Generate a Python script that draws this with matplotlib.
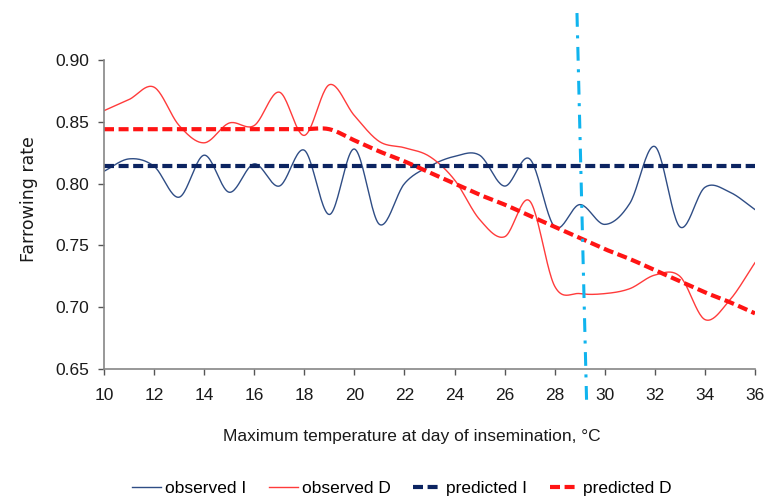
import numpy as np
import matplotlib
matplotlib.use("Agg")
import matplotlib.pyplot as plt

# maximum temperature at day of insemination (C)
temps = list(range(10, 37))

observed_I = [0.810, 0.820, 0.814, 0.789, 0.823, 0.793, 0.816, 0.798, 0.827,
              0.775, 0.828, 0.767, 0.800, 0.814, 0.822, 0.823, 0.798, 0.820,
              0.765, 0.783, 0.767, 0.784, 0.830, 0.765, 0.797, 0.793, 0.779]

observed_D = [0.859, 0.868, 0.878, 0.847, 0.833, 0.849, 0.847, 0.874, 0.839,
              0.880, 0.855, 0.834, 0.829, 0.822, 0.803, 0.771, 0.757, 0.786,
              0.717, 0.711, 0.711, 0.715, 0.726, 0.725, 0.690, 0.706, 0.736]

predicted_I = [0.814] * 27

predicted_D = [0.844, 0.844, 0.844, 0.844, 0.844, 0.844, 0.844, 0.844, 0.844,
               0.844, 0.835, 0.826, 0.818, 0.809, 0.800, 0.791, 0.783, 0.774,
               0.765, 0.756, 0.747, 0.739, 0.730, 0.721, 0.712, 0.704, 0.695]

# threshold marker (drawn slightly slanted in the source)
threshold_x = [28.89, 29.28]
threshold_y = [0.938, 0.619]

x_ticks = list(range(10, 37, 2))
y_ticks = [0.65, 0.70, 0.75, 0.80, 0.85, 0.90]

FONT = 'Liberation Sans'


def smooth(x, y, n=24):
    # Catmull-Rom curve through the points, like Excel's smoothed line
    x = np.asarray(x, float)
    y = np.asarray(y, float)
    px = np.concatenate([[2 * x[0] - x[1]], x, [2 * x[-1] - x[-2]]])
    py = np.concatenate([[2 * y[0] - y[1]], y, [2 * y[-1] - y[-2]]])
    t = np.linspace(0, 1, n, endpoint=False)
    xs, ys = [], []
    for i in range(1, len(px) - 2):
        for p, out in ((px, xs), (py, ys)):
            p0, p1, p2, p3 = p[i - 1], p[i], p[i + 1], p[i + 2]
            out.extend(0.5 * (2 * p1 + (p2 - p0) * t
                              + (2 * p0 - 5 * p1 + 4 * p2 - p3) * t ** 2
                              + (3 * p1 - p0 - 3 * p2 + p3) * t ** 3))
    xs.append(x[-1])
    ys.append(y[-1])
    return xs, ys


fig = plt.figure(figsize=(7.75, 4.99), dpi=100)
ax = fig.add_axes([104 / 775, 130 / 499, 651 / 775, 309 / 499])

l1, = ax.plot(*smooth(temps, observed_I), color='#2f4d85', lw=1.0,
              label='observed I')
l2, = ax.plot(*smooth(temps, observed_D), color='#ff3b3b', lw=1.0,
              label='observed D')
l3, = ax.plot(temps, predicted_I, color='#0c2461', lw=3.0,
              linestyle=(0, (2.4, 1.1)), label='predicted I')
l4, = ax.plot(*smooth(temps, predicted_D), color='#ff1414', lw=3.0,
              linestyle=(0, (2.4, 1.1)), label='predicted D')

ax.plot(threshold_x, threshold_y, color='#10b4ee', lw=2.2,
        linestyle=(0, (4.5, 2.8, 1.0, 2.8)), clip_on=False, zorder=5)

ax.set_xlim(10, 36)
ax.set_ylim(0.65, 0.90)
ax.set_xticks(x_ticks)
ax.set_yticks(y_ticks)
ax.set_yticklabels([f"{v:.2f}" for v in y_ticks])

for s in ('top', 'right'):
    ax.spines[s].set_visible(False)
for s in ('left', 'bottom'):
    ax.spines[s].set_color('#868686')
    ax.spines[s].set_linewidth(1.2)

ax.tick_params(axis='both', direction='out', length=4.5, width=1.0,
               color='#555555', labelcolor='#1a1a1a', labelsize=12.5)
ax.tick_params(axis='x', pad=9)
ax.tick_params(axis='y', pad=6)
for lab in ax.get_xticklabels() + ax.get_yticklabels():
    lab.set_family(FONT)

ax.set_xlabel('Maximum temperature at day of insemination, °C',
              family=FONT, fontsize=12.5, color='#1a1a1a')
ax.xaxis.set_label_coords(0.473, -0.195)
ax.set_ylabel('Farrowing rate', family='DejaVu Sans', fontsize=12.5,
              color='#1a1a1a')
ax.yaxis.set_label_coords(-0.102, 0.55)

fig.legend(handles=[l1, l2, l3, l4], loc='lower center', ncol=4,
           bbox_to_anchor=(0.518, -0.025), frameon=False,
           prop={'family': FONT, 'size': 12.5}, handlelength=1.7,
           handletextpad=0.2, columnspacing=1.3)

fig.savefig('out.png', dpi=100)
